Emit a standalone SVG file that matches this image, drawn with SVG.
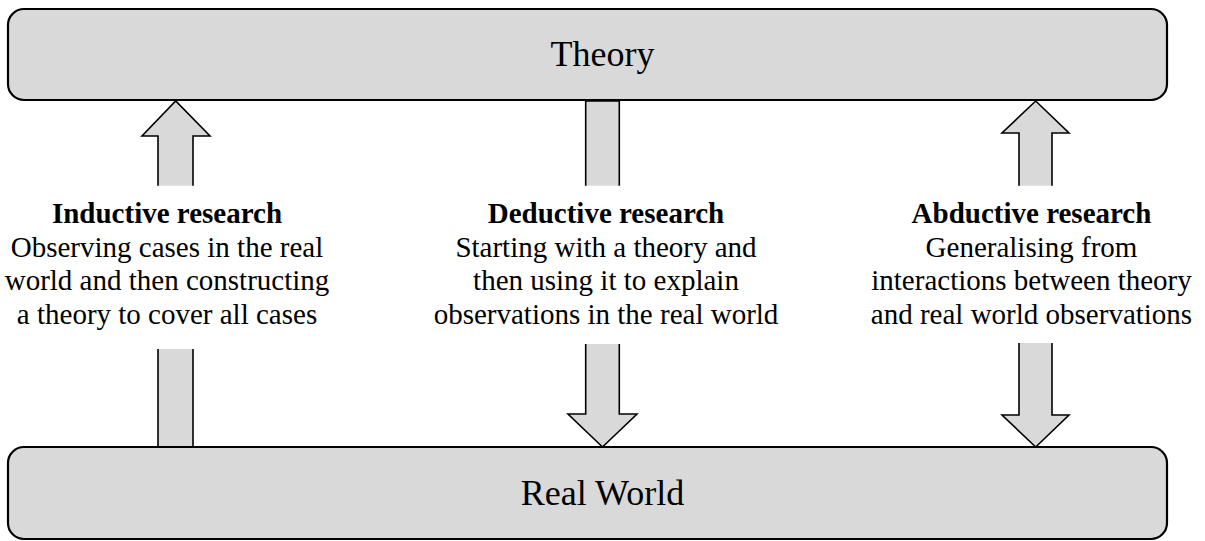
<svg xmlns="http://www.w3.org/2000/svg" width="1205" height="541" viewBox="0 0 1205 541">
<style>
.box{fill:#d9d9d9;stroke:#000;stroke-width:2.2}
.arr{fill:#d9d9d9;stroke:#000;stroke-width:1.6;stroke-linejoin:miter}
.big{font-family:"Liberation Serif","Times New Roman",serif;font-size:36px;fill:#000;text-anchor:middle}
.t{font-family:"Liberation Serif","Times New Roman",serif;font-size:29px;fill:#000;text-anchor:middle}
.b{font-weight:bold}
</style>
<rect width="1205" height="541" fill="#fff"/>
<g id="connectors">
  <path class="arr" d="M158,185.7 L158,136 L142,136 L175.7,101 L210,136 L193,136 L193,185.7"/>
  <path class="arr" d="M158,349 L158,448 L193,448 L193,349"/>
  <path class="arr" d="M585.7,185.7 L585.7,101 L619.3,101 L619.3,185.7"/>
  <path class="arr" d="M585.7,344 L585.7,414 L568,414 L602.5,447 L637,414 L619.3,414 L619.3,344"/>
  <path class="arr" d="M1019,185.7 L1019,133 L1002,133 L1035.7,101 L1069,133 L1052,133 L1052,185.7"/>
  <path class="arr" d="M1019,343 L1019,415 L1002,415 L1035.7,447 L1069,415 L1052,415 L1052,343"/>
</g>
<g id="theory">
  <rect class="box" x="8" y="9" width="1159" height="91" rx="16" ry="16"/>
  <text class="big" x="602.5" y="66">Theory</text>
</g>
<g id="realworld">
  <rect class="box" x="8" y="447" width="1159" height="92" rx="16" ry="16"/>
  <text class="big" x="602.5" y="505">Real World</text>
</g>
<g id="inductive">
  <text class="t b" x="167" y="223">Inductive research</text>
  <text class="t" x="167" y="257">Observing cases in the real</text>
  <text class="t" x="167" y="290">world and then constructing</text>
  <text class="t" x="167" y="324">a theory to cover all cases</text>
</g>
<g id="deductive">
  <text class="t b" x="606" y="223">Deductive research</text>
  <text class="t" x="606" y="257">Starting with a theory and</text>
  <text class="t" x="606" y="290">then using it to explain</text>
  <text class="t" x="606" y="324">observations in the real world</text>
</g>
<g id="abductive">
  <text class="t b" x="1031.5" y="223">Abductive research</text>
  <text class="t" x="1031.5" y="257">Generalising from</text>
  <text class="t" x="1031.5" y="290">interactions between theory</text>
  <text class="t" x="1031.5" y="324">and real world observations</text>
</g>
</svg>
